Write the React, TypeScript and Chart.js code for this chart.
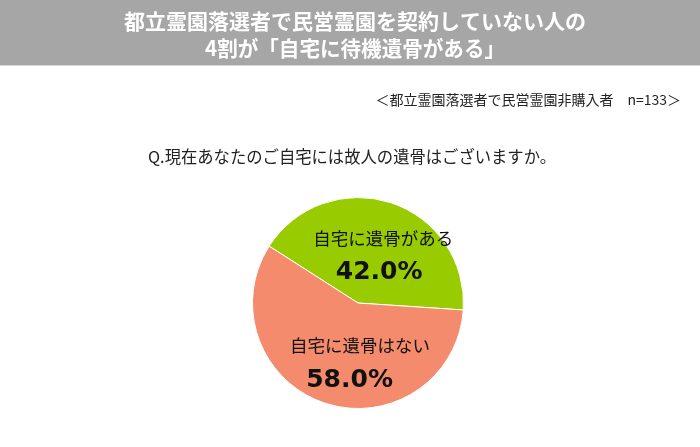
import React, { useEffect, useRef } from "react";
import { Chart, registerables } from "chart.js";

Chart.register(...registerables);

const titleLines = ["都立霊園落選者で民営霊園を契約していない人の", "4割が「自宅に待機遺骨がある」"];
const subtitle = "＜都立霊園落選者で民営霊園非購入者　n=133＞";
const question = "Q.現在あなたのご自宅には故人の遺骨はございますか。";
const categories = ["自宅に遺骨がある", "自宅に遺骨はない"];
const values = [42.0, 58.0];
const colors = ["#99CC00", "#F38B6C"];
// label placement relative to pie centre, in units of radius: [name dx, name dy, value dx, value dy]
const labelPos = [
  [0.24, -0.615, 0.2, -0.29],
  [0.02, 0.4, -0.08, 0.73],
];

const JP = '"Noto Sans CJK JP", "Noto Sans", sans-serif';

const decorPlugin = {
  id: "decor",
  beforeDraw(chart: any) {
    const ctx = chart.ctx;
    ctx.save();
    ctx.fillStyle = "#A6A6A6";
    ctx.fillRect(0, 0, chart.width, 65);
    ctx.fillStyle = "#D6D6D6";
    ctx.fillRect(0, 65, chart.width, 1);
    ctx.fillStyle = "#FFFFFF";
    ctx.textAlign = "center";
    ctx.textBaseline = "middle";
    ctx.font = `bold 21px ${JP}`;
    ctx.fillText(titleLines[0], 355, 21, 486);
    ctx.fillText(titleLines[1], 355, 48, 300);
    ctx.fillStyle = "#222222";
    ctx.textAlign = "right";
    ctx.font = `14px ${JP}`;
    ctx.fillText(subtitle, 681, 100, 326);
    ctx.textAlign = "center";
    ctx.font = `16.5px ${JP}`;
    ctx.fillText(question, 352, 157, 408);
    ctx.restore();
  },
  afterDatasetsDraw(chart: any) {
    const ctx = chart.ctx;
    const meta = chart.getDatasetMeta(0);
    ctx.save();
    ctx.fillStyle = "#111111";
    ctx.textAlign = "center";
    ctx.textBaseline = "middle";
    meta.data.forEach((arc: any, i: number) => {
      const R = arc.outerRadius;
      const p = labelPos[i];
      ctx.font = `17.5px ${JP}`;
      ctx.fillText(categories[i], arc.x + p[0] * R, arc.y + p[1] * R);
      ctx.font = `bold 25px "DejaVu Sans", sans-serif`;
      ctx.fillText(values[i].toFixed(1) + "%", arc.x + p[2] * R, arc.y + p[3] * R);
    });
    ctx.restore();
  },
};

export default function App() {
  const ref = useRef<HTMLCanvasElement>(null);
  useEffect(() => {
    document.body.style.margin = "0";
    const chart = new Chart(ref.current!, {
      type: "pie",
      data: {
        labels: categories,
        datasets: [
          {
            data: values,
            backgroundColor: colors,
            borderColor: "#FFFFFF",
            borderWidth: 1,
          },
        ],
      },
      options: {
        responsive: false,
        animation: false,
        rotation: -57.4,
        layout: { padding: { top: 197, bottom: 38, left: 252, right: 236 } },
        plugins: { legend: { display: false }, tooltip: { enabled: false } },
        events: [],
      },
      plugins: [decorPlugin],
    });
    return () => chart.destroy();
  }, []);
  return (
    <div style={{ width: 700, height: 447, background: "#fff" }}>
      <canvas ref={ref} width={700} height={447} style={{ display: "block" }} />
    </div>
  );
}
